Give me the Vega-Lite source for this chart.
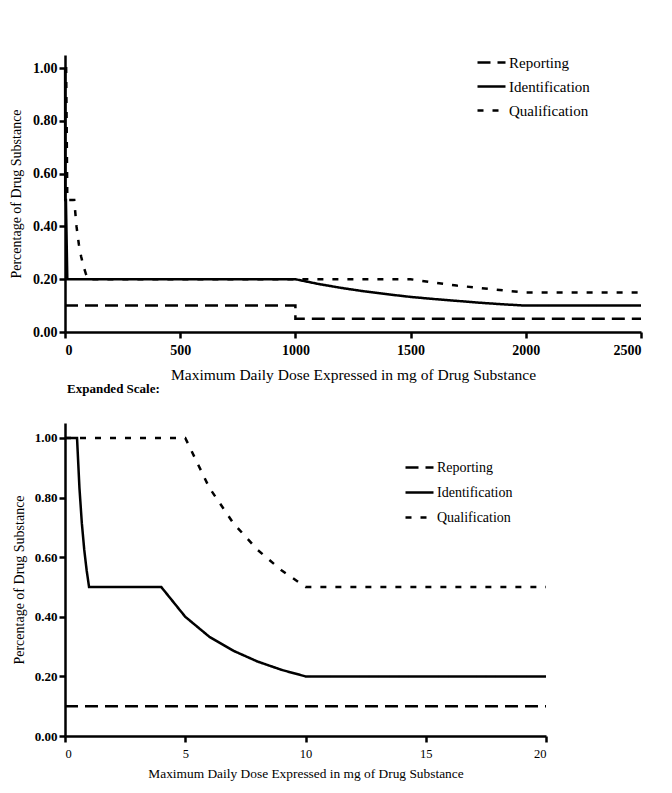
{
  "$schema": "https://vega.github.io/schema/vega-lite/v6.json",
  "background": "white",
  "padding": {"left": 9, "top": 47, "right": 5, "bottom": 5},
  "spacing": 0,
  "datasets": {
    "top": [
      {"series": "Reporting", "x": 0, "y": 0.1, "i": 1},
      {"series": "Reporting", "x": 1000, "y": 0.1, "i": 2},
      {"series": "Reporting", "x": 1000, "y": 0.05, "i": 3},
      {"series": "Reporting", "x": 2500, "y": 0.05, "i": 4},
      {"series": "Identification", "x": 0, "y": 1.0, "i": 1},
      {"series": "Identification", "x": 0.5, "y": 1.0, "i": 2},
      {"series": "Identification", "x": 1, "y": 0.5, "i": 3},
      {"series": "Identification", "x": 4, "y": 0.5, "i": 4},
      {"series": "Identification", "x": 10, "y": 0.2, "i": 5},
      {"series": "Identification", "x": 1000, "y": 0.2, "i": 6},
      {"series": "Identification", "x": 1100, "y": 0.182, "i": 7},
      {"series": "Identification", "x": 1200, "y": 0.167, "i": 8},
      {"series": "Identification", "x": 1300, "y": 0.154, "i": 9},
      {"series": "Identification", "x": 1400, "y": 0.143, "i": 10},
      {"series": "Identification", "x": 1500, "y": 0.133, "i": 11},
      {"series": "Identification", "x": 1600, "y": 0.125, "i": 12},
      {"series": "Identification", "x": 1700, "y": 0.118, "i": 13},
      {"series": "Identification", "x": 1800, "y": 0.111, "i": 14},
      {"series": "Identification", "x": 1900, "y": 0.105, "i": 15},
      {"series": "Identification", "x": 2000, "y": 0.1, "i": 16},
      {"series": "Identification", "x": 2500, "y": 0.1, "i": 17},
      {"series": "Qualification", "x": 0, "y": 1.0, "i": 1},
      {"series": "Qualification", "x": 5, "y": 1.0, "i": 2},
      {"series": "Qualification", "x": 10, "y": 0.5, "i": 3},
      {"series": "Qualification", "x": 40, "y": 0.5, "i": 4},
      {"series": "Qualification", "x": 50, "y": 0.4, "i": 5},
      {"series": "Qualification", "x": 60, "y": 0.333, "i": 6},
      {"series": "Qualification", "x": 70, "y": 0.286, "i": 7},
      {"series": "Qualification", "x": 80, "y": 0.25, "i": 8},
      {"series": "Qualification", "x": 90, "y": 0.222, "i": 9},
      {"series": "Qualification", "x": 100, "y": 0.2, "i": 10},
      {"series": "Qualification", "x": 1500, "y": 0.2, "i": 11},
      {"series": "Qualification", "x": 1600, "y": 0.1875, "i": 12},
      {"series": "Qualification", "x": 1700, "y": 0.176, "i": 13},
      {"series": "Qualification", "x": 1800, "y": 0.167, "i": 14},
      {"series": "Qualification", "x": 1900, "y": 0.158, "i": 15},
      {"series": "Qualification", "x": 2000, "y": 0.15, "i": 16},
      {"series": "Qualification", "x": 2500, "y": 0.15, "i": 17}
    ],
    "bottom": [
      {"series": "Reporting", "x": 0, "y": 0.1, "i": 1},
      {"series": "Reporting", "x": 20, "y": 0.1, "i": 2},
      {"series": "Identification", "x": 0, "y": 1.0, "i": 1},
      {"series": "Identification", "x": 0.5, "y": 1.0, "i": 2},
      {"series": "Identification", "x": 0.6, "y": 0.833, "i": 3},
      {"series": "Identification", "x": 0.7, "y": 0.714, "i": 4},
      {"series": "Identification", "x": 0.8, "y": 0.625, "i": 5},
      {"series": "Identification", "x": 0.9, "y": 0.556, "i": 6},
      {"series": "Identification", "x": 1, "y": 0.5, "i": 7},
      {"series": "Identification", "x": 4, "y": 0.5, "i": 8},
      {"series": "Identification", "x": 5, "y": 0.4, "i": 9},
      {"series": "Identification", "x": 6, "y": 0.333, "i": 10},
      {"series": "Identification", "x": 7, "y": 0.286, "i": 11},
      {"series": "Identification", "x": 8, "y": 0.25, "i": 12},
      {"series": "Identification", "x": 9, "y": 0.222, "i": 13},
      {"series": "Identification", "x": 10, "y": 0.2, "i": 14},
      {"series": "Identification", "x": 20, "y": 0.2, "i": 15},
      {"series": "Qualification", "x": 0, "y": 1.0, "i": 1},
      {"series": "Qualification", "x": 5, "y": 1.0, "i": 2},
      {"series": "Qualification", "x": 6, "y": 0.833, "i": 3},
      {"series": "Qualification", "x": 7, "y": 0.714, "i": 4},
      {"series": "Qualification", "x": 8, "y": 0.625, "i": 5},
      {"series": "Qualification", "x": 9, "y": 0.556, "i": 6},
      {"series": "Qualification", "x": 10, "y": 0.5, "i": 7},
      {"series": "Qualification", "x": 20, "y": 0.5, "i": 8}
    ]
  },
  "config": {
    "view": {"stroke": null},
    "font": "Liberation Serif",
    "axis": {
      "grid": false,
      "domainColor": "#000",
      "domainWidth": 2.5,
      "tickColor": "#000",
      "tickWidth": 2.5,
      "tickSize": 6,
      "labelColor": "#000",
      "titleColor": "#000",
      "labelFont": "Liberation Serif",
      "titleFont": "Liberation Serif",
      "titleFontWeight": "normal"
    },
    "legend": {
      "title": null,
      "labelFont": "Liberation Serif",
      "labelColor": "#000",
      "symbolType": "stroke",
      "symbolStrokeColor": "#000",
      "symbolStrokeWidth": 2.5,
      "symbolSize": 784,
      "labelOffset": 2
    }
  },
  "resolve": {"legend": {"strokeDash": "independent"}, "scale": {"x": "independent", "y": "independent"}},
  "vconcat": [
    {
      "width": 576,
      "height": 277,
      "data": {"name": "top"},
      "mark": {"type": "line", "color": "#000", "strokeWidth": 2.5, "strokeCap": "butt"},
      "encoding": {
        "x": {
          "field": "x", "type": "quantitative",
          "scale": {"domain": [0, 2500], "nice": false},
          "axis": {"values": [0, 500, 1000, 1500, 2000, 2500], "format": "d", "title": "Maximum Daily Dose Expressed in mg of Drug Substance", "labelFontSize": 14, "labelFontWeight": "bold", "labelPadding": 5, "titleFontSize": 15.5, "titlePadding": 10}
        },
        "y": {
          "field": "y", "type": "quantitative",
          "scale": {"domain": [0, 1.05], "nice": false},
          "axis": {"values": [0, 0.2, 0.4, 0.6, 0.8, 1.0], "format": ".2f", "title": "Percentage of Drug Substance", "labelFontSize": 14, "labelFontWeight": "bold", "labelPadding": 2, "titleFontSize": 14, "titlePadding": 9}
        },
        "order": {"field": "i", "type": "quantitative"},
        "strokeDash": {
          "field": "series", "type": "nominal",
          "scale": {"domain": ["Reporting", "Identification", "Qualification"], "range": [[13, 7], [1, 0], [6, 9]]},
          "legend": {"orient": "none", "legendX": 411, "legendY": -8, "labelFontSize": 15, "rowPadding": -4}
        }
      }
    },
    {
      "width": 481,
      "height": 313,
      "title": {"text": "Expanded Scale:", "anchor": "start", "frame": "group", "font": "Liberation Serif", "fontSize": 13, "fontWeight": "bold", "color": "#000", "offset": 27, "dx": 2},
      "data": {"name": "bottom"},
      "mark": {"type": "line", "color": "#000", "strokeWidth": 2.5, "strokeCap": "butt"},
      "encoding": {
        "x": {
          "field": "x", "type": "quantitative",
          "scale": {"domain": [0, 20], "nice": false},
          "axis": {"values": [0, 5, 10, 15, 20], "title": "Maximum Daily Dose Expressed in mg of Drug Substance", "labelFontSize": 12.5, "labelPadding": 5, "titleFontSize": 13.4, "titlePadding": 7}
        },
        "y": {
          "field": "y", "type": "quantitative",
          "scale": {"domain": [0, 1.05], "nice": false},
          "axis": {"values": [0, 0.2, 0.4, 0.6, 0.8, 1.0], "format": ".2f", "title": "Percentage of Drug Substance", "labelFontSize": 13, "labelFontWeight": "bold", "labelPadding": 2, "titleFontSize": 14, "titlePadding": 8}
        },
        "order": {"field": "i", "type": "quantitative"},
        "strokeDash": {
          "field": "series", "type": "nominal",
          "scale": {"domain": ["Reporting", "Identification", "Qualification"], "range": [[13, 7], [1, 0], [6, 9]]},
          "legend": {"orient": "none", "legendX": 339, "legendY": 29, "labelFontSize": 14, "rowPadding": 2}
        }
      }
    }
  ]
}
